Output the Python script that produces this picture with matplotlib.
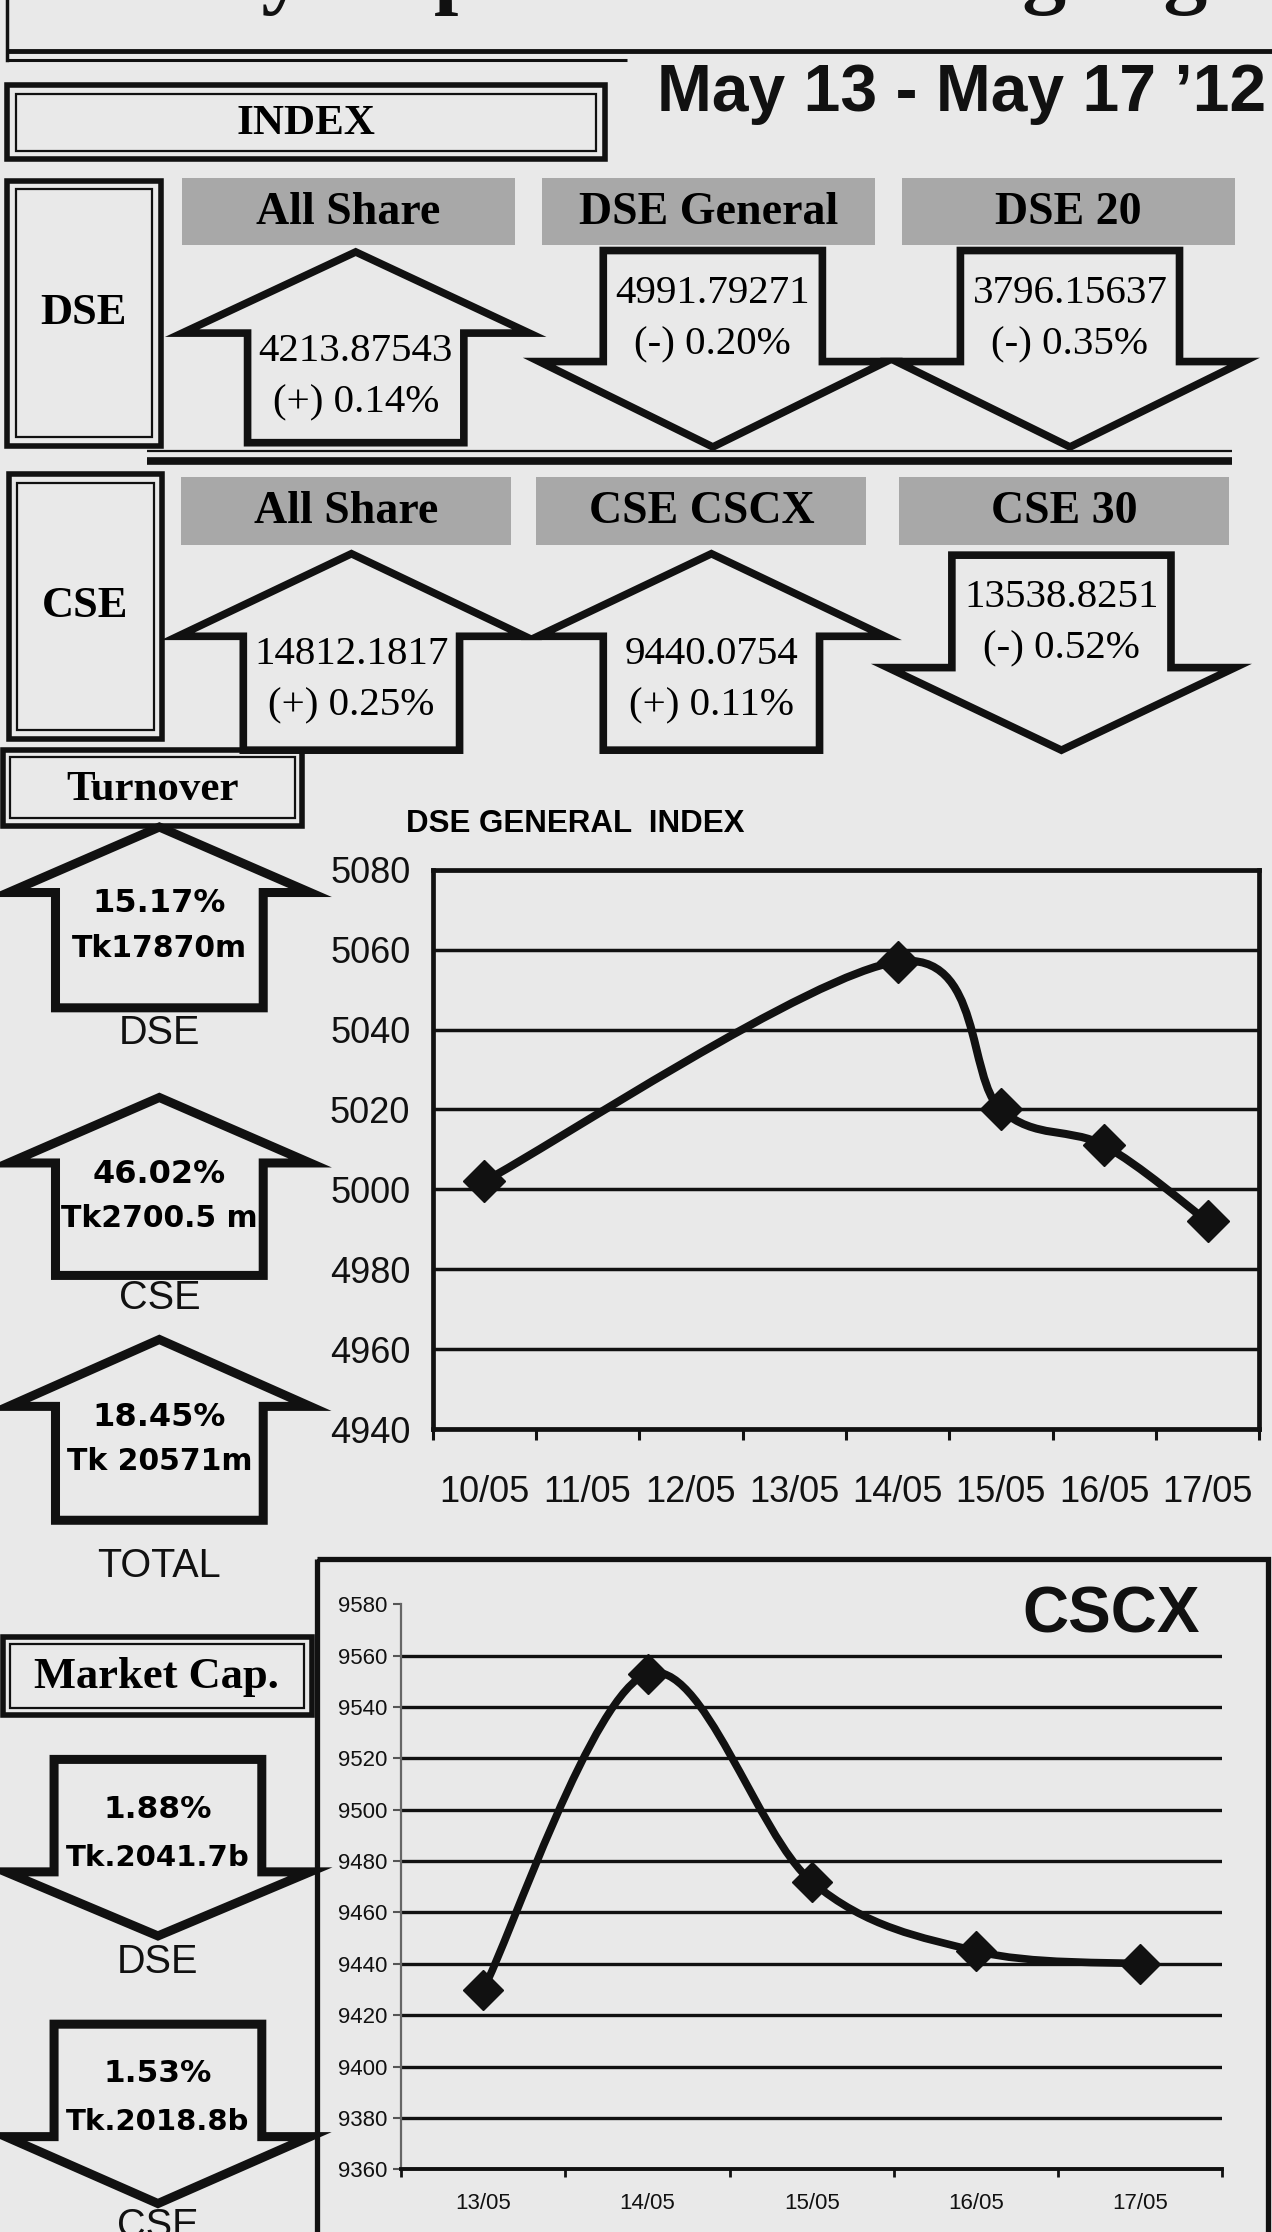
import numpy as np
import matplotlib
matplotlib.use('Agg')
import matplotlib.pyplot as plt
from matplotlib.patches import Polygon, Rectangle, PathPatch
from matplotlib.path import Path
from matplotlib import font_manager

# ---------------- data ----------------
dse_names = ['All Share', 'DSE General', 'DSE 20']
dse_values = ['4213.87543', '4991.79271', '3796.15637']
dse_changes = ['(+) 0.14%', '(-) 0.20%', '(-) 0.35%']

cse_names = ['All Share', 'CSE CSCX', 'CSE 30']
cse_values = ['14812.1817', '9440.0754', '13538.8251']
cse_changes = ['(+) 0.25%', '(+) 0.11%', '(-) 0.52%']

turnover_labels = ['DSE', 'CSE', 'TOTAL']
turnover_pct = ['15.17%', '46.02%', '18.45%']
turnover_amt = ['Tk17870m', 'Tk2700.5 m', 'Tk 20571m']

mcap_labels = ['DSE', 'CSE']
mcap_pct = ['1.88%', '1.53%']
mcap_amt = ['Tk.2041.7b', 'Tk.2018.8b']

dsex_dates = ['10/05', '11/05', '12/05', '13/05', '14/05', '15/05', '16/05', '17/05']
dsex_values = [5002, np.nan, np.nan, np.nan, 5057, 5020, 5011, 4992]
dsex_ticks = [4940, 4960, 4980, 5000, 5020, 5040, 5060, 5080]

cscx_dates = ['13/05', '14/05', '15/05', '16/05', '17/05']
cscx_values = [9430, 9553, 9472, 9445, 9440]
cscx_ticks = [9360, 9380, 9400, 9420, 9440, 9460, 9480, 9500, 9520, 9540, 9560, 9580]

title_text = 'Weekly Capital Market Highlights'
date_text = 'May 13 - May 17 \u201912'

# ---------------- style ----------------
BG = '#e9e9e9'
INK = '#111111'
GRAY = '#a8a8a8'
SERIF = 'Liberation Serif'
SANS = 'Liberation Sans'
names = {f.name for f in font_manager.fontManager.ttflist}
NARROW = 'Liberation Sans Narrow' if 'Liberation Sans Narrow' in names else SANS
plt.rcParams['font.family'] = SANS

W, H = 894.0, 1568.0   # layout units (reference preview pixels)

fig = plt.figure(figsize=(12.72, 22.32), dpi=100, facecolor=BG)
ax = fig.add_axes([0, 0, 1, 1])
ax.set_xlim(0, W)
ax.set_ylim(H, 0)
ax.axis('off')


def frect(x0, y0, x1, y1):
    return [x0 / W, 1 - y1 / H, (x1 - x0) / W, (y1 - y0) / H]


def double_box(x0, y0, x1, y1, gap=6):
    ax.add_patch(Rectangle((x0, y0), x1 - x0, y1 - y0, fc='none', ec=INK, lw=4))
    ax.add_patch(Rectangle((x0 + gap, y0 + gap), x1 - x0 - 2 * gap, y1 - y0 - 2 * gap,
                           fc='none', ec=INK, lw=1.6))


def arrow(cx, top, head, bottom, half_w, half_s, up=True, lw=5.5):
    if up:
        pts = [(cx, top), (cx + half_w, head), (cx + half_s, head), (cx + half_s, bottom),
               (cx - half_s, bottom), (cx - half_s, head), (cx - half_w, head)]
    else:
        pts = [(cx, bottom), (cx + half_w, head), (cx + half_s, head), (cx + half_s, top),
               (cx - half_s, top), (cx - half_s, head), (cx - half_w, head)]
    ax.add_patch(Polygon(pts, closed=True, fc=BG, ec=INK, lw=lw, joinstyle='miter'))


def smooth_path(xs, ys):
    # Excel-like smoothed line (Catmull-Rom as cubic Bezier)
    p = np.column_stack([xs, ys]).astype(float)
    verts, codes = [p[0]], [Path.MOVETO]
    n = len(p)
    for i in range(n - 1):
        pm = p[i - 1] if i > 0 else p[i]
        pp = p[i + 2] if i + 2 < n else p[i + 1]
        verts += [p[i] + (p[i + 1] - pm) / 6, p[i + 1] - (pp - p[i]) / 6, p[i + 1]]
        codes += [Path.CURVE4] * 3
    return Path(verts, codes)


# ---------------- header ----------------
ax.text(20, -2, title_text, family=SERIF, weight='bold', fontsize=63, va='baseline',
        ha='left', color=INK, clip_on=True)
ax.plot([5, W], [36, 36], color=INK, lw=3.5, solid_capstyle='butt')
ax.plot([5, 441], [42, 42], color=INK, lw=2.2, solid_capstyle='butt')
ax.plot([5, 5], [0, 42], color=INK, lw=2.5)
ax.text(462, 78, date_text, weight='bold', fontsize=47.5, va='baseline', ha='left', color=INK)

double_box(5, 60, 425, 112)
ax.text(215, 87, 'INDEX', family=SERIF, weight='bold', fontsize=31, ha='center', va='center')

# ---------------- index rows ----------------
rows = [
    dict(label='DSE', box=(5, 127, 113, 313), names=dse_names, values=dse_values,
         changes=dse_changes, hdr_y=(125, 172), hdr_cx=[245, 498, 751], hdr_w=234,
         cx=[250, 501, 752], up_geom=(177, 234, 311), down_geom=(176, 254, 314)),
    dict(label='CSE', box=(6, 333, 114, 519), names=cse_names, values=cse_values,
         changes=cse_changes, hdr_y=(335, 383), hdr_cx=[243, 493, 748], hdr_w=232,
         cx=[247, 500, 746], up_geom=(389, 447, 527), down_geom=(390, 469, 527)),
]
for r in rows:
    x0, y0, x1, y1 = r['box']
    double_box(x0, y0, x1, y1)
    ax.text((x0 + x1) / 2, (y0 + y1) / 2, r['label'], family=SERIF, weight='bold',
            fontsize=32, ha='center', va='center')
    for name, val, chg, hx, cx in zip(r['names'], r['values'], r['changes'], r['hdr_cx'], r['cx']):
        hy0, hy1 = r['hdr_y']
        ax.add_patch(Rectangle((hx - r['hdr_w'] / 2, hy0), r['hdr_w'], hy1 - hy0, fc=GRAY, ec='none'))
        ax.text(hx, (hy0 + hy1) / 2 + 1, name, family=SERIF, weight='bold', fontsize=33,
                ha='center', va='center')
        up = chg.startswith('(+)')
        if up:
            top, head, bottom = r['up_geom']
            arrow(cx, top, head, bottom, 122, 76, up=True)
            ty = head + 13
        else:
            top, head, bottom = r['down_geom']
            arrow(cx, top, head, bottom, 122, 77, up=False)
            ty = top + 30
        ax.text(cx, ty, val, family=SERIF, fontsize=29.5, ha='center', va='center')
        ax.text(cx, ty + 36, chg, family=SERIF, fontsize=29.5, ha='center', va='center')

# separator under DSE row
ax.plot([103, 866], [317, 317], color=INK, lw=1.6, solid_capstyle='butt')
ax.plot([103, 866], [324, 324], color=INK, lw=5.5, solid_capstyle='butt')

# ---------------- turnover ----------------
double_box(2, 527, 212, 580, gap=5)
ax.text(107, 555, 'Turnover', family=SERIF, weight='bold', fontsize=31, ha='center', va='center')
t_tips = [581, 771, 941]
t_heads = [627, 817, 988]
t_bottoms = [708, 896, 1068]
t_label_y = [726, 912, 1100]
for lab, pct, amt, tp, hd, bt, ly in zip(turnover_labels, turnover_pct, turnover_amt,
                                         t_tips, t_heads, t_bottoms, t_label_y):
    arrow(112, tp, hd, bt, 106, 73, up=True, lw=6.5)
    ax.text(112, hd + 8, pct, family='DejaVu Sans', weight='bold', fontsize=23, ha='center', va='center')
    ax.text(112, hd + 39, amt, family='DejaVu Sans', weight='bold', fontsize=21.5, ha='center', va='center')
    ax.text(112, ly, lab, fontsize=28.5, ha='center', va='center', color=INK)

# ---------------- market cap ----------------
double_box(2, 1150, 219, 1205, gap=5)
ax.text(110, 1178, 'Market Cap.', family=SERIF, weight='bold', fontsize=32, ha='center', va='center')
m_tops = [1236, 1422]
m_heads = [1315, 1501]
m_tips = [1360, 1548]
m_label_y = [1378, 1564]
for lab, pct, amt, tp, hd, bt, ly in zip(mcap_labels, mcap_pct, mcap_amt,
                                         m_tops, m_heads, m_tips, m_label_y):
    arrow(111, tp, hd, bt, 107, 73, up=False, lw=6.5)
    ax.text(111, tp + 35, pct, family='DejaVu Sans', weight='bold', fontsize=22.5, ha='center', va='center')
    ax.text(111, tp + 69, amt, family='DejaVu Sans', weight='bold', fontsize=21, ha='center', va='center')
    ax.text(111, ly, lab, fontsize=28.5, ha='center', va='center', color=INK)

# ---------------- DSE general index chart ----------------
ax.text(285, 579, 'DSE GENERAL  INDEX', family=NARROW, weight='bold',
        fontsize=27 if NARROW != SANS else 22.5, ha='left', va='center')
a1 = fig.add_axes(frect(304, 611, 885, 1004))
a1.patch.set_alpha(0)
x1 = np.arange(len(dsex_dates))
v1 = np.array(dsex_values, dtype=float)
ok = ~np.isnan(v1)
a1.add_patch(PathPatch(smooth_path(x1[ok], v1[ok]), fc='none', ec=INK, lw=5.8,
                       capstyle='round', joinstyle='round', zorder=3))
a1.plot(x1[ok], v1[ok], 'D', color=INK, ms=21, zorder=4)
a1.set_xlim(-0.5, len(dsex_dates) - 0.5)
a1.set_ylim(dsex_ticks[0], dsex_ticks[-1])
a1.set_yticks(dsex_ticks)
a1.set_xticks(x1)
a1.set_xticklabels(dsex_dates)
a1.set_xticks(np.arange(-0.5, len(dsex_dates)), minor=True)
a1.yaxis.grid(True, color=INK, lw=2.5)
a1.set_axisbelow(True)
for s in a1.spines.values():
    s.set_linewidth(3.4)
    s.set_color(INK)
a1.tick_params(axis='x', which='major', length=0, pad=33, labelsize=26, labelcolor=INK)
a1.tick_params(axis='x', which='minor', length=8, width=2.2, direction='out', color=INK)
a1.tick_params(axis='y', length=0, pad=16, labelsize=26, labelcolor=INK)

# ---------------- CSCX chart ----------------
ax.add_patch(Rectangle((223, 1095), 891 - 223, 600, fc='none', ec=INK, lw=3.8))
ax.text(781, 1135, 'CSCX', weight='bold', fontsize=46, ha='center', va='center', color=INK)
a2 = fig.add_axes(frect(282, 1127, 859, 1524))
a2.patch.set_alpha(0)
x2 = np.arange(len(cscx_dates))
for t in cscx_ticks[1:-1]:
    a2.axhline(t, color=INK, lw=2.4, zorder=1)
a2.add_patch(PathPatch(smooth_path(x2, cscx_values), fc='none', ec=INK, lw=5.5,
                       capstyle='round', joinstyle='round', zorder=3))
a2.plot(x2, cscx_values, 'D', color=INK, ms=20, zorder=4)
a2.set_xlim(-0.5, len(cscx_dates) - 0.5)
a2.set_ylim(cscx_ticks[0], cscx_ticks[-1])
a2.set_yticks(cscx_ticks)
a2.set_xticks(x2)
a2.set_xticklabels(cscx_dates)
a2.set_xticks(np.arange(-0.5, len(cscx_dates)), minor=True)
a2.spines['top'].set_visible(False)
a2.spines['right'].set_visible(False)
a2.spines['left'].set_color('#666666')
a2.spines['left'].set_linewidth(1.6)
a2.spines['bottom'].set_color(INK)
a2.spines['bottom'].set_linewidth(2.8)
a2.tick_params(axis='y', length=6, width=1.5, color='#555555', pad=4, labelsize=16, labelcolor=INK)
a2.tick_params(axis='x', which='major', length=0, pad=17, labelsize=16, labelcolor=INK)
a2.tick_params(axis='x', which='minor', length=6, width=2, direction='out', color=INK)

fig.savefig('out.png', dpi=100, facecolor=BG)
